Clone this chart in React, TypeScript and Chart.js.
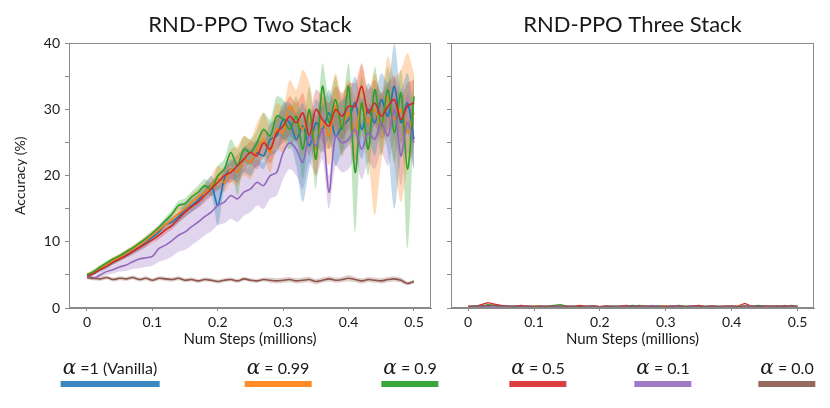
import React, { useEffect, useRef } from 'react';
import { Chart, registerables } from 'chart.js';
Chart.register(...registerables);

// ---------- data ----------
const steps = [0,
  0.01, 0.02, 0.03, 0.04, 0.05, 0.06, 0.07, 0.08, 0.09, 0.10,
  0.11, 0.12, 0.13, 0.14, 0.15, 0.16, 0.17, 0.18, 0.19, 0.20,
  0.21, 0.22, 0.23, 0.24, 0.25, 0.26, 0.27, 0.28, 0.29, 0.30,
  0.31, 0.32, 0.33, 0.34, 0.35, 0.36, 0.37, 0.38, 0.39, 0.40,
  0.41, 0.42, 0.43, 0.44, 0.45, 0.46, 0.47, 0.48, 0.49, 0.50];

const xTickValues = [0, 0.1, 0.2, 0.3, 0.4, 0.5];
const xTickLabels = ['0', '0.1', '0.2', '0.3', '0.4', '0.5'];
const yTickValues = [0, 5, 10, 15, 20, 25, 30, 35, 40];
const yTickLabels = ['0', '', '10', '', '20', '', '30', '', '40'];

const seriesLabels = ['=1 (Vanilla)', '= 0.99', '= 0.9', '= 0.5', '= 0.1', '= 0.0'];

// Two Stack: mean, lower and upper band
const blueMean = [4.8,
  5.2, 5.8, 6.3, 6.9, 7.4, 8.0, 8.6, 9.2, 9.9, 10.7,
  11.5, 12.6, 13.0, 13.8, 14.8, 15.5, 16.3, 17.5, 18.5, 15.5,
  19.5, 21.0, 20.5, 22.5, 22.0, 23.5, 23.0, 25.5, 26.0, 28.5,
  28.0, 25.5, 27.5, 24.5, 28.0, 27.0, 29.5, 26.0, 27.5, 28.5,
  31.0, 27.0, 30.0, 28.0, 31.5, 29.0, 33.5, 28.0, 31.0, 25.5];
const blueLo = [4.5,
  4.9, 5.4, 5.9, 6.5, 7.0, 7.5, 8.1, 8.7, 9.3, 10.0,
  10.8, 11.8, 12.2, 13.0, 13.8, 14.5, 15.3, 16.3, 17.0, 12.5,
  18.0, 19.5, 19.0, 20.5, 20.0, 21.5, 21.0, 23.0, 23.5, 25.5,
  25.0, 21.5, 16.0, 21.0, 24.5, 23.5, 25.5, 21.5, 23.5, 24.5,
  26.0, 22.5, 25.5, 23.0, 27.0, 23.5, 15.0, 23.0, 26.5, 21.0];
const blueHi = [5.1,
  5.5, 6.2, 6.7, 7.3, 7.8, 8.5, 9.1, 9.7, 10.5, 11.4,
  12.2, 13.4, 13.8, 14.6, 15.8, 16.5, 17.3, 18.7, 20.0, 18.5,
  21.0, 22.5, 22.0, 24.5, 24.0, 25.5, 25.0, 28.0, 28.5, 31.0,
  31.0, 29.5, 31.0, 28.0, 31.5, 30.5, 33.0, 30.5, 31.5, 32.5,
  35.0, 31.5, 34.0, 32.5, 35.5, 34.0, 40.0, 33.0, 35.5, 30.0];

const orangeMean = [5.0,
  5.5, 6.0, 6.6, 7.2, 7.7, 8.3, 8.9, 9.5, 10.2, 11.0,
  11.8, 12.6, 13.4, 14.3, 15.0, 16.0, 16.8, 17.5, 18.5, 19.5,
  19.0, 21.0, 20.5, 22.5, 22.0, 24.0, 25.5, 23.5, 27.0, 26.5,
  30.5, 29.0, 27.0, 29.5, 24.0, 28.5, 26.0, 30.5, 27.5, 29.5,
  26.5, 31.0, 28.0, 30.0, 27.5, 32.0, 28.5, 30.0, 26.5, 29.5];
const orangeLo = [4.7,
  5.2, 5.7, 6.2, 6.8, 7.3, 7.9, 8.4, 9.0, 9.6, 10.4,
  11.2, 11.9, 12.7, 13.5, 14.2, 15.0, 15.8, 16.5, 17.3, 18.0,
  17.5, 19.0, 18.5, 20.0, 19.5, 21.5, 22.5, 20.5, 24.0, 23.5,
  26.5, 25.0, 23.0, 25.0, 20.0, 24.0, 21.5, 26.0, 23.0, 25.0,
  21.5, 26.0, 22.5, 14.0, 22.0, 26.0, 21.5, 16.0, 21.0, 24.0];
const orangeHi = [5.3,
  5.8, 6.4, 7.0, 7.7, 8.2, 8.8, 9.5, 10.1, 10.9, 11.7,
  12.5, 13.4, 14.3, 15.3, 16.0, 17.2, 18.0, 18.8, 20.0, 21.5,
  21.0, 24.0, 24.5, 26.0, 25.5, 28.0, 29.5, 27.5, 31.0, 30.5,
  34.5, 33.0, 36.0, 34.0, 29.0, 33.0, 31.0, 35.5, 32.0, 34.5,
  32.0, 36.5, 33.0, 35.5, 32.5, 38.0, 35.0, 36.0, 38.5, 35.5];

const greenMean = [5.0,
  5.5, 6.2, 6.8, 7.4, 7.9, 8.5, 9.1, 9.8, 10.5, 11.3,
  12.2, 13.2, 14.2, 15.5, 15.8, 16.8, 17.5, 18.5, 18.0, 20.0,
  21.0, 23.5, 21.5, 24.0, 23.5, 25.0, 27.0, 26.0, 29.0, 28.5,
  27.0, 29.0, 24.0, 30.0, 22.5, 33.5, 28.0, 31.5, 27.0, 33.5,
  20.5, 31.0, 24.0, 33.0, 27.5, 33.0, 26.5, 32.5, 21.0, 32.0];
const greenLo = [4.7,
  5.2, 5.9, 6.5, 7.1, 7.6, 8.2, 8.8, 9.5, 10.1, 10.9,
  11.8, 12.7, 13.6, 14.8, 15.0, 16.0, 16.5, 17.5, 17.0, 18.5,
  19.5, 21.5, 17.0, 22.0, 21.5, 23.0, 24.5, 23.5, 26.0, 25.5,
  24.0, 26.0, 19.5, 26.5, 18.0, 29.5, 24.0, 27.5, 23.0, 29.0,
  11.5, 27.0, 20.0, 29.0, 23.0, 29.0, 22.0, 28.5, 9.0, 28.0];
const greenHi = [5.3,
  5.8, 6.5, 7.1, 7.7, 8.2, 8.8, 9.4, 10.1, 10.9, 11.7,
  12.6, 13.7, 14.8, 16.2, 16.6, 17.6, 18.5, 19.5, 19.0, 21.5,
  22.5, 25.5, 24.0, 26.0, 25.5, 27.0, 29.5, 28.5, 32.0, 31.5,
  30.0, 32.0, 28.5, 33.5, 27.0, 37.0, 32.0, 35.0, 31.0, 37.0,
  26.0, 35.0, 28.5, 36.5, 31.5, 36.5, 30.5, 36.0, 27.0, 35.5];

const redMean = [4.8,
  5.2, 5.8, 6.3, 6.9, 7.4, 7.9, 8.5, 9.1, 9.7, 10.3,
  11.0, 11.8, 12.5, 13.5, 14.5, 15.3, 16.0, 17.0, 18.0, 19.0,
  20.0, 20.5, 21.5, 22.5, 23.5, 23.0, 25.0, 24.0, 26.5, 27.5,
  29.0, 28.0, 29.5, 26.0, 30.0, 28.5, 27.5, 30.0, 29.0, 30.5,
  30.5, 33.5, 29.5, 31.0, 29.0, 30.5, 31.5, 28.5, 30.5, 31.0];
const redLo = [4.5,
  4.9, 5.5, 6.0, 6.5, 7.0, 7.5, 8.0, 8.6, 9.2, 9.8,
  10.4, 11.2, 11.9, 12.8, 13.7, 14.5, 15.1, 16.0, 16.9, 17.8,
  18.7, 19.0, 19.8, 20.8, 21.8, 21.0, 23.0, 21.8, 24.0, 25.0,
  26.0, 25.0, 26.5, 23.0, 27.0, 25.0, 24.0, 26.5, 25.5, 27.0,
  27.0, 30.0, 26.0, 27.5, 25.5, 27.0, 28.0, 25.0, 27.0, 27.5];
const redHi = [5.1,
  5.5, 6.1, 6.6, 7.3, 7.8, 8.3, 9.0, 9.6, 10.2, 10.8,
  11.6, 12.4, 13.1, 14.2, 15.3, 16.1, 16.9, 18.0, 19.1, 20.2,
  21.3, 22.0, 23.2, 24.2, 25.2, 25.0, 27.0, 26.2, 29.0, 30.0,
  32.0, 31.0, 32.5, 29.0, 33.0, 32.0, 31.0, 33.5, 32.5, 34.0,
  34.0, 37.0, 33.0, 34.5, 32.5, 34.0, 35.0, 32.0, 34.0, 34.5];

const purpleMean = [4.8,
  4.5, 5.0, 5.5, 5.8, 6.2, 6.5, 7.0, 7.4, 7.6, 7.8,
  9.0, 9.5, 10.2, 11.0, 11.5, 12.3, 13.0, 13.8, 14.5, 15.5,
  16.0, 17.0, 16.5, 17.5, 18.0, 19.0, 18.5, 20.0, 20.5, 23.5,
  25.0, 24.0, 22.0, 26.0, 24.5, 27.0, 17.5, 26.0, 25.0, 25.5,
  27.0, 24.0, 26.5, 25.5, 28.0, 26.0, 30.0, 23.0, 28.0, 25.0];
const purpleLo = [4.5,
  4.2, 4.6, 5.0, 5.2, 5.5, 5.6, 5.9, 6.0, 6.2, 6.4,
  7.0, 7.3, 7.8, 8.5, 8.8, 9.5, 10.2, 11.0, 11.6, 12.5,
  12.8, 13.5, 13.0, 14.0, 14.5, 15.5, 15.0, 16.5, 17.0, 19.5,
  21.0, 20.0, 18.0, 22.0, 20.0, 22.5, 15.0, 21.5, 20.5, 21.0,
  22.5, 19.5, 22.0, 21.0, 23.5, 21.5, 25.5, 18.5, 23.5, 21.0];
const purpleHi = [5.1,
  4.8, 5.4, 6.0, 6.4, 6.9, 7.4, 8.1, 8.8, 9.4, 9.8,
  11.0, 11.7, 12.6, 13.5, 14.2, 15.1, 15.8, 16.6, 17.4, 18.5,
  19.2, 20.5, 20.0, 21.0, 21.5, 22.5, 22.0, 23.5, 24.0, 27.5,
  29.0, 28.0, 26.0, 30.0, 29.0, 31.5, 20.0, 30.5, 29.5, 30.0,
  31.5, 28.5, 31.0, 30.0, 32.5, 30.5, 34.5, 27.5, 32.5, 29.0];

const brownMean = [4.6,
  4.5, 4.4, 4.6, 4.3, 4.5, 4.4, 4.6, 4.3, 4.5, 4.2,
  4.5, 4.4, 4.3, 4.5, 4.2, 4.3, 4.1, 4.3, 4.2, 4.0,
  4.2, 4.3, 4.1, 4.4, 4.2, 4.1, 4.3, 4.2, 4.1, 4.2,
  4.3, 4.1, 4.2, 4.3, 4.0, 4.2, 4.4, 4.2, 4.3, 4.5,
  4.3, 4.1, 4.3, 4.2, 4.1, 4.3, 4.4, 4.2, 3.7, 4.0];
const brownLo = [4.3,
  4.2, 4.1, 4.3, 4.0, 4.2, 4.1, 4.3, 4.0, 4.2, 3.9,
  4.2, 4.1, 4.0, 4.2, 3.9, 4.0, 3.8, 4.0, 3.9, 3.7,
  3.9, 4.0, 3.8, 4.1, 3.9, 3.8, 4.0, 3.8, 3.7, 3.8,
  3.9, 3.7, 3.8, 3.9, 3.6, 3.8, 4.0, 3.8, 3.9, 4.0,
  3.9, 3.7, 3.9, 3.8, 3.7, 3.9, 4.0, 3.8, 3.4, 3.7];
const brownHi = [4.9,
  4.8, 4.7, 4.9, 4.6, 4.8, 4.7, 4.9, 4.6, 4.8, 4.5,
  4.8, 4.7, 4.6, 4.8, 4.5, 4.6, 4.4, 4.6, 4.5, 4.3,
  4.5, 4.6, 4.4, 4.7, 4.5, 4.4, 4.6, 4.6, 4.5, 4.6,
  4.7, 4.5, 4.6, 4.7, 4.4, 4.6, 4.8, 4.6, 4.7, 5.0,
  4.7, 4.5, 4.7, 4.6, 4.5, 4.7, 4.8, 4.6, 4.0, 4.3];

// Three Stack: all series stay near zero
const blueThree = [0.2,
  0.3, 0.2, 0.4, 0.3, 0.2, 0.3, 0.2, 0.3, 0.2, 0.2,
  0.3, 0.2, 0.2, 0.3, 0.2, 0.3, 0.2, 0.2, 0.3, 0.2,
  0.2, 0.3, 0.2, 0.3, 0.4, 0.2, 0.3, 0.2, 0.3, 0.2,
  0.3, 0.4, 0.2, 0.3, 0.2, 0.3, 0.2, 0.3, 0.2, 0.3,
  0.2, 0.3, 0.2, 0.4, 0.3, 0.2, 0.3, 0.2, 0.3, 0.2];
const orangeThree = [0.3,
  0.2, 0.4, 0.3, 0.5, 0.3, 0.2, 0.3, 0.2, 0.2, 0.3,
  0.2, 0.3, 0.2, 0.3, 0.2, 0.2, 0.3, 0.2, 0.3, 0.2,
  0.3, 0.2, 0.2, 0.3, 0.2, 0.3, 0.2, 0.3, 0.2, 0.3,
  0.2, 0.3, 0.2, 0.2, 0.3, 0.2, 0.3, 0.2, 0.3, 0.2,
  0.3, 0.2, 0.3, 0.2, 0.3, 0.2, 0.2, 0.3, 0.2, 0.3];
const greenThree = [0.2,
  0.3, 0.3, 0.5, 0.4, 0.3, 0.2, 0.3, 0.3, 0.2, 0.3,
  0.2, 0.3, 0.4, 0.5, 0.3, 0.2, 0.3, 0.2, 0.3, 0.2,
  0.2, 0.3, 0.2, 0.2, 0.3, 0.4, 0.3, 0.2, 0.3, 0.2,
  0.3, 0.2, 0.3, 0.2, 0.3, 0.2, 0.3, 0.2, 0.2, 0.3,
  0.2, 0.3, 0.2, 0.3, 0.2, 0.3, 0.3, 0.2, 0.4, 0.2];
const redThree = [0.3,
  0.2, 0.5, 0.8, 0.6, 0.4, 0.3, 0.2, 0.4, 0.3, 0.2,
  0.3, 0.2, 0.3, 0.2, 0.3, 0.2, 0.4, 0.2, 0.3, 0.2,
  0.3, 0.2, 0.3, 0.4, 0.2, 0.3, 0.2, 0.3, 0.2, 0.3,
  0.2, 0.3, 0.2, 0.3, 0.4, 0.2, 0.3, 0.2, 0.3, 0.2,
  0.3, 0.7, 0.3, 0.2, 0.3, 0.2, 0.3, 0.2, 0.3, 0.2];
const purpleThree = [0.2,
  0.2, 0.3, 0.2, 0.3, 0.2, 0.2, 0.3, 0.2, 0.3, 0.2,
  0.2, 0.3, 0.2, 0.2, 0.3, 0.2, 0.2, 0.3, 0.2, 0.2,
  0.3, 0.2, 0.2, 0.3, 0.2, 0.3, 0.2, 0.4, 0.2, 0.2,
  0.3, 0.2, 0.2, 0.3, 0.2, 0.2, 0.3, 0.2, 0.2, 0.3,
  0.2, 0.2, 0.3, 0.2, 0.2, 0.3, 0.2, 0.4, 0.2, 0.2];
const brownThree = [0.2,
  0.3, 0.3, 0.4, 0.4, 0.3, 0.3, 0.2, 0.3, 0.3, 0.2,
  0.3, 0.2, 0.3, 0.3, 0.2, 0.3, 0.2, 0.3, 0.3, 0.2,
  0.3, 0.2, 0.3, 0.3, 0.2, 0.3, 0.3, 0.2, 0.3, 0.2,
  0.3, 0.3, 0.2, 0.3, 0.3, 0.2, 0.3, 0.2, 0.3, 0.3,
  0.2, 0.3, 0.3, 0.2, 0.3, 0.3, 0.2, 0.3, 0.3, 0.3];

const twoMeans = [blueMean, orangeMean, greenMean, redMean, purpleMean, brownMean];
const twoLows = [blueLo, orangeLo, greenLo, redLo, purpleLo, brownLo];
const twoHighs = [blueHi, orangeHi, greenHi, redHi, purpleHi, brownHi];
const threeMeans = [blueThree, orangeThree, greenThree, redThree, purpleThree, brownThree];

// ---------- styles & layout ----------
const lineColors = ['#1f77b4', '#ff7f0e', '#2ca02c', '#d62728', '#9467bd', '#8c564b'];
const bandColors = ['rgba(31,119,180,0.28)', 'rgba(255,127,14,0.28)', 'rgba(44,160,44,0.28)',
  'rgba(214,39,40,0.28)', 'rgba(148,103,189,0.28)', 'rgba(140,86,75,0.28)'];
const legendColors = ['#3a87c1', '#ff8c28', '#3aa73a', '#db3f3f', '#a07ac4', '#976a5e'];
const legendCenters = [110, 278, 410, 538, 663, 787];
const FONT = 'Lato, "Open Sans", sans-serif';
const AXIS = '#8a8a8a';
const TEXT = '#1a1a1a';

const pts = (vals: number[]) => vals.map((v, i) => ({ x: steps[i], y: v }));

const framePlugin = {
  id: 'frame',
  afterDatasetsDraw(chart: any) {
    const { ctx, chartArea: a } = chart;
    ctx.save();
    ctx.strokeStyle = AXIS;
    ctx.lineWidth = 1;
    const l = Math.round(a.left) + 0.5, r = Math.round(a.right) - 0.5;
    const t = Math.round(a.top) + 0.5, b = Math.round(a.bottom) - 0.5;
    ctx.strokeRect(l, t, r - l, b - t);
    ctx.restore();
  },
};

function makeOptions(title: string, showY: boolean, yWidth: number, padRight: number, xMin: number, xMax: number): any {
  return {
    animation: false,
    responsive: false,
    maintainAspectRatio: false,
    layout: { padding: { left: 0, right: padRight, top: 0, bottom: 0 } },
    plugins: {
      legend: { display: false },
      tooltip: { enabled: false },
      title: {
        display: true, text: title, fullSize: false, color: TEXT,
        font: { family: FONT, size: 22, weight: 'normal' },
        padding: { top: 12, bottom: 5 },
      },
    },
    scales: {
      x: {
        type: 'linear', min: xMin, max: xMax,
        afterBuildTicks: (s: any) => { s.ticks = xTickValues.map((v) => ({ value: v })); },
        afterFit: (s: any) => { s.height = 48; },
        ticks: {
          color: TEXT, font: { family: FONT, size: 14 }, padding: 3, maxRotation: 0, autoSkip: false,
          callback: (v: number) => xTickLabels[xTickValues.findIndex((t) => Math.abs(t - v) < 1e-9)] ?? '',
        },
        grid: { drawOnChartArea: false, drawTicks: true, tickLength: 3, color: AXIS },
        border: { color: AXIS },
        title: { display: true, text: 'Num Steps (millions)', color: TEXT, font: { family: FONT, size: 15 }, padding: { top: 0, bottom: 8 } },
      },
      y: {
        min: 0, max: 40,
        afterBuildTicks: (s: any) => { s.ticks = yTickValues.map((v) => ({ value: v })); },
        afterFit: (s: any) => { s.width = yWidth; },
        ticks: {
          color: TEXT, font: { family: FONT, size: 14 }, padding: 5, autoSkip: false,
          callback: (v: number) => showY ? (yTickLabels[yTickValues.indexOf(v)] ?? '') : '',
        },
        grid: { drawOnChartArea: false, drawTicks: true, tickLength: 4, color: AXIS },
        border: { color: AXIS },
        title: { display: showY, text: 'Accuracy (%)', color: TEXT, font: { family: FONT, size: 14 }, padding: { top: 12, bottom: 0 } },
      },
    },
  };
}

export default function App() {
  const leftRef = useRef<HTMLCanvasElement>(null);
  const rightRef = useRef<HTMLCanvasElement>(null);

  useEffect(() => {
    const leftSets: any[] = [];
    twoMeans.forEach((_, i) => {
      leftSets.push({ label: seriesLabels[i] + ' lo', data: pts(twoLows[i]), borderWidth: 0, pointRadius: 0, fill: false, tension: 0.3, order: 50 });
      leftSets.push({ label: seriesLabels[i] + ' hi', data: pts(twoHighs[i]), borderWidth: 0, pointRadius: 0, backgroundColor: bandColors[i], fill: '-1', tension: 0.3, order: 50 });
    });
    twoMeans.forEach((m, i) => {
      leftSets.push({ label: seriesLabels[i], data: pts(m), borderColor: lineColors[i], borderWidth: 1.6, pointRadius: 0, fill: false, tension: 0.3, order: 20 - i });
    });
    const rightSets = threeMeans.map((m, i) => ({
      label: seriesLabels[i], data: pts(m), borderColor: lineColors[i], borderWidth: 1.2, pointRadius: 0, fill: false, tension: 0, order: 20 - i,
    }));

    const c1 = new Chart(leftRef.current!, {
      type: 'line', data: { datasets: leftSets },
      options: makeOptions('RND-PPO Two Stack', true, 69, 9, -0.0275, 0.526),
      plugins: [framePlugin],
    });
    const c2 = new Chart(rightRef.current!, {
      type: 'line', data: { datasets: rightSets },
      options: makeOptions('RND-PPO Three Stack', false, 11, 16, -0.026, 0.525),
      plugins: [framePlugin],
    });
    return () => { c1.destroy(); c2.destroy(); };
  }, []);

  return (
    <div style={{ position: 'absolute', left: 0, top: 0, width: 830, height: 408, background: '#fff', overflow: 'hidden' }}>
      <canvas ref={leftRef} width={440} height={356} style={{ position: 'absolute', left: 0, top: 0 }} />
      <canvas ref={rightRef} width={390} height={356} style={{ position: 'absolute', left: 440, top: 0 }} />
      {seriesLabels.map((lab, i) => (
        <div key={i} style={{ position: 'absolute', left: legendCenters[i], top: 356, transform: 'translateX(-50%)', display: 'flex', flexDirection: 'column', alignItems: 'stretch' }}>
          <div style={{ fontFamily: FONT, fontSize: 16, color: TEXT, whiteSpace: 'nowrap', lineHeight: '22px', textAlign: 'center', padding: '0 2px' }}>
            <span style={{ fontFamily: '"DejaVu Serif", serif', fontStyle: 'italic', fontSize: 20 }}>α</span>
            {' ' + lab}
          </div>
          <div style={{ height: 6, marginTop: 2, background: legendColors[i] }} />
        </div>
      ))}
    </div>
  );
}
